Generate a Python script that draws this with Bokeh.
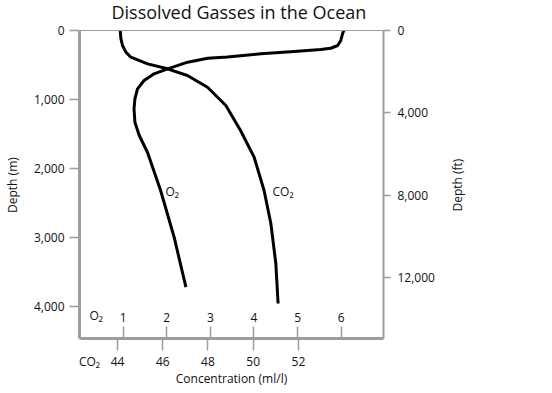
import math
from bokeh.plotting import figure
from bokeh.layouts import row
from bokeh.models import Range1d, LinearAxis, FixedTicker, NumeralTickFormatter, Label, Span
from bokeh.embed import file_html
from bokeh.resources import INLINE

# ---- data ----
chart_title = "Dissolved Gasses in the Ocean"

o2_depth_m = [0, 48, 145, 217, 257, 275, 304, 338, 384, 403, 459, 555, 628, 725,
              845, 990, 1135, 1329, 1522, 1768, 2319, 2996, 3720]
o2_conc = [6.06, 6.03, 5.99, 5.92, 5.76, 5.53, 4.92, 4.16, 3.39, 2.94, 2.48, 2.02,
           1.71, 1.48, 1.33, 1.27, 1.25, 1.27, 1.37, 1.56, 1.86, 2.17, 2.44]

co2_depth_m = [0, 116, 217, 314, 387, 483, 555, 652, 822, 1087, 1449, 1836,
               2319, 2797, 3377, 3957]
co2_conc = [44.12, 44.15, 44.22, 44.37, 44.59, 45.33, 46.21, 47.09, 47.98, 48.79,
            49.44, 50.04, 50.48, 50.78, 51.00, 51.10]

depth_m_ticks = [0, 1000, 2000, 3000, 4000]
depth_ft_ticks = [0, 4000, 8000, 12000]
o2_ticks = [1, 2, 3, 4, 5, 6]
co2_ticks = [44, 46, 48, 50, 52]
co2_row_label_at = 42.76   # where the "CO₂" row name sits on the CO2 scale

surface_m = 0
bottom_m = 4464
bottom_ft = 14950
o2_range = (0, 6.97)
co2_range = (42.32, 55.76)
# the plotting area also holds the title strip above the sea surface
depth_m_range = (bottom_m, -435)
depth_ft_range = (bottom_ft, -1456)

# ---- style ----
FONT = "Open Sans"
GRAY = "#9d9d9d"
INK = "#111111"
NBSP = "\u00a0"
PAD = NBSP * 10   # keeps the visible axis titles centred on the ocean part of the axes

p = figure(frame_width=304, frame_height=338, title=None,
           min_border_left=74, min_border_top=0, min_border_right=56, min_border_bottom=40,
           x_range=Range1d(*o2_range), y_range=Range1d(*depth_m_range),
           x_axis_location=None, y_axis_location=None,
           output_backend="svg", toolbar_location=None)
p.extra_x_ranges = {"co2": Range1d(*co2_range)}
p.extra_y_ranges = {"ft": Range1d(*depth_ft_range)}
p.grid.visible = False
p.outline_line_color = None
p.background_fill_color = "white"
p.border_fill_color = "white"


def style_axis(ax, tick_in, tick_out, line_w):
    ax.axis_line_color = GRAY
    ax.axis_line_width = line_w
    ax.major_tick_line_color = GRAY
    ax.major_tick_line_width = 1.5
    ax.major_tick_in = tick_in
    ax.major_tick_out = tick_out
    ax.minor_tick_in = 0
    ax.minor_tick_out = 0
    ax.major_label_text_font = FONT
    ax.major_label_text_font_size = "12px"
    ax.major_label_text_color = INK
    ax.axis_label_text_font = FONT
    ax.axis_label_text_font_size = "12px"
    ax.axis_label_text_font_style = "normal"
    ax.axis_label_text_color = INK


left = LinearAxis(ticker=FixedTicker(ticks=depth_m_ticks), bounds=(surface_m, bottom_m),
                  formatter=NumeralTickFormatter(format="0,0"),
                  axis_label="Depth (m)" + PAD)
style_axis(left, 0, 10, 3)
left.major_label_standoff = 5
left.axis_label_standoff = 10
p.add_layout(left, "left")

right = LinearAxis(y_range_name="ft", ticker=FixedTicker(ticks=depth_ft_ticks),
                   bounds=(0, bottom_ft),
                   formatter=NumeralTickFormatter(format="0,0"))
style_axis(right, 0, 7, 2)
right.major_label_standoff = 7
p.add_layout(right, "right")

# O2 scale: ticks point into the plot, numbers sit inside above them
ax_o2 = LinearAxis(ticker=FixedTicker(ticks=o2_ticks))
style_axis(ax_o2, 12, 0, 3)
ax_o2.major_label_standoff = -26
p.add_layout(ax_o2, "below")

# CO2 scale: tick marks (as minor ticks) below the frame, numbers, row name, axis title
ax_co2 = LinearAxis(x_range_name="co2",
                    ticker=FixedTicker(ticks=[co2_row_label_at] + co2_ticks,
                                       minor_ticks=co2_ticks),
                    major_label_overrides={co2_row_label_at: "CO₂"},
                    axis_label="Concentration (ml/l)")
style_axis(ax_co2, 0, 0, 0)
ax_co2.axis_line_color = None
ax_co2.major_tick_line_color = None
ax_co2.minor_tick_line_color = GRAY
ax_co2.minor_tick_line_width = 1.5
ax_co2.minor_tick_out = 12
ax_co2.major_label_standoff = 2
ax_co2.axis_label_standoff = -3
p.add_layout(ax_co2, "below")

# sea-surface line closing the box on top
p.add_layout(Span(location=surface_m, dimension="width", line_color=GRAY, line_width=1))

# ---- curves ----
p.line(o2_conc, o2_depth_m, line_color="black", line_width=3, line_join="round")
p.line(co2_conc, co2_depth_m, x_range_name="co2", line_color="black", line_width=3,
       line_join="round")


def add_label(text, x, y, size="12px", align="left", baseline="alphabetic"):
    p.add_layout(Label(x=x, y=y, x_units="screen", y_units="screen", text=text,
                       text_font=FONT, text_font_size=size, text_color=INK,
                       text_align=align, text_baseline=baseline))


add_label(chart_title, 32, 326.5, size="18px")
add_label("O₂", 86, 147)
add_label("CO₂", 193, 147)
add_label("O₂", 10, 23)

# ---- right-hand axis title, read bottom to top like the left one ----
p2 = figure(frame_width=10, frame_height=338, title=None,
            min_border_left=26, min_border_top=0, min_border_right=0, min_border_bottom=0,
            x_range=Range1d(0, 1), y_range=Range1d(*depth_ft_range),
            x_axis_location=None, y_axis_location=None,
            output_backend="svg", toolbar_location=None)
p2.grid.visible = False
p2.outline_line_color = None
p2.background_fill_color = "white"
p2.border_fill_color = "white"
ft_title = LinearAxis(ticker=FixedTicker(ticks=[]), axis_label="Depth (ft)" + PAD)
style_axis(ft_title, 0, 0, 0)
ft_title.axis_line_color = None
ft_title.major_label_standoff = 0
ft_title.axis_label_standoff = 0
p2.add_layout(ft_title, "left")

layout = row(p, p2)
open("out.html", "w").write(file_html(layout, INLINE, title=chart_title))
